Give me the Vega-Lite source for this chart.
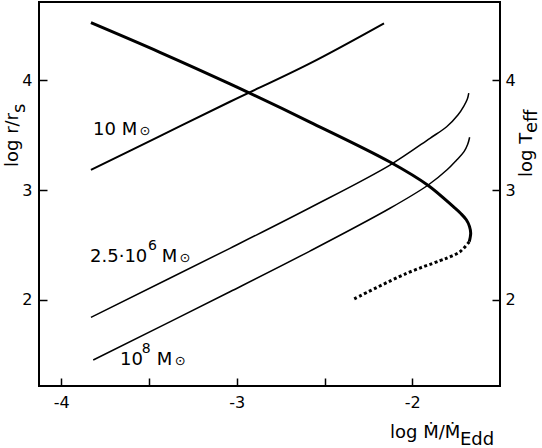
{
  "$schema": "https://vega.github.io/schema/vega-lite/v6.json",
  "width": 461,
  "height": 384,
  "autosize": "none",
  "padding": {"left": 39, "top": 2, "right": 42, "bottom": 62},
  "background": "white",
  "config": {
    "view": {"stroke": "black", "strokeWidth": 2},
    "font": "DejaVu Sans",
    "axis": {
      "domain": false,
      "grid": false,
      "title": null,
      "tickColor": "black",
      "tickWidth": 1.5,
      "tickSize": -8,
      "labelColor": "black",
      "labelFont": "DejaVu Sans",
      "labelFontSize": 16
    }
  },
  "datasets": {
    "curves": [
      {"s": "thick", "o": 1, "x": -3.831, "y": 4.526},
      {"s": "thick", "o": 2, "x": -3.438, "y": 4.256},
      {"s": "thick", "o": 3, "x": -3.039, "y": 3.968},
      {"s": "thick", "o": 4, "x": -2.583, "y": 3.621},
      {"s": "thick", "o": 5, "x": -2.127, "y": 3.257},
      {"s": "thick", "o": 6, "x": -1.909, "y": 3.043},
      {"s": "thick", "o": 7, "x": -1.766, "y": 2.849},
      {"s": "thick", "o": 8, "x": -1.722, "y": 2.785},
      {"s": "thick", "o": 9, "x": -1.692, "y": 2.730},
      {"s": "thick", "o": 10, "x": -1.674, "y": 2.670},
      {"s": "thick", "o": 11, "x": -1.667, "y": 2.607},
      {"s": "thick", "o": 12, "x": -1.675, "y": 2.530},
      {"s": "dotted", "o": 1, "x": -1.675, "y": 2.530},
      {"s": "dotted", "o": 2, "x": -1.728, "y": 2.439},
      {"s": "dotted", "o": 3, "x": -1.785, "y": 2.393},
      {"s": "dotted", "o": 4, "x": -1.842, "y": 2.357},
      {"s": "dotted", "o": 5, "x": -2.032, "y": 2.242},
      {"s": "dotted", "o": 6, "x": -2.336, "y": 2.005},
      {"s": "m10", "o": 1, "x": -3.831, "y": 3.184},
      {"s": "m10", "o": 2, "x": -3.438, "y": 3.493},
      {"s": "m10", "o": 3, "x": -3.039, "y": 3.806},
      {"s": "m10", "o": 4, "x": -2.583, "y": 4.156},
      {"s": "m10", "o": 5, "x": -2.161, "y": 4.521},
      {"s": "m25e6", "o": 1, "x": -3.831, "y": 1.841},
      {"s": "m25e6", "o": 2, "x": -3.039, "y": 2.470},
      {"s": "m25e6", "o": 3, "x": -2.583, "y": 2.840},
      {"s": "m25e6", "o": 4, "x": -2.127, "y": 3.229},
      {"s": "m25e6", "o": 5, "x": -1.899, "y": 3.473},
      {"s": "m25e6", "o": 6, "x": -1.804, "y": 3.578},
      {"s": "m25e6", "o": 7, "x": -1.740, "y": 3.685},
      {"s": "m25e6", "o": 8, "x": -1.706, "y": 3.767},
      {"s": "m25e6", "o": 9, "x": -1.686, "y": 3.831},
      {"s": "m25e6", "o": 10, "x": -1.678, "y": 3.885},
      {"s": "m1e8", "o": 1, "x": -3.818, "y": 1.452},
      {"s": "m1e8", "o": 2, "x": -3.039, "y": 2.074},
      {"s": "m1e8", "o": 3, "x": -2.583, "y": 2.445},
      {"s": "m1e8", "o": 4, "x": -2.127, "y": 2.835},
      {"s": "m1e8", "o": 5, "x": -1.909, "y": 3.047},
      {"s": "m1e8", "o": 6, "x": -1.800, "y": 3.188},
      {"s": "m1e8", "o": 7, "x": -1.747, "y": 3.275},
      {"s": "m1e8", "o": 8, "x": -1.705, "y": 3.351},
      {"s": "m1e8", "o": 9, "x": -1.684, "y": 3.418},
      {"s": "m1e8", "o": 10, "x": -1.673, "y": 3.482}
    ],
    "annot": [
      {"x": -3.819, "y": 3.503, "t": "10 M"},
      {"x": -3.836, "y": 2.342, "t": "2.5·10"},
      {"x": -3.428, "y": 2.342, "t": "M"},
      {"x": -3.665, "y": 1.406, "t": "10"},
      {"x": -3.456, "y": 1.406, "t": "M"},
      {"x": -2.127, "y": 0.741, "t": "log Ṁ/Ṁ"},
      {"x": -1.728, "y": 0.677, "t": "Edd"}
    ],
    "sun": [
      {"x": -3.554, "y": 3.503, "t": "⊙"},
      {"x": -3.326, "y": 2.342, "t": "⊙"},
      {"x": -3.354, "y": 1.406, "t": "⊙"}
    ],
    "sup": [
      {"x": -3.506, "y": 2.454, "t": "6"},
      {"x": -3.542, "y": 1.516, "t": "8"}
    ],
    "vtitle": [
      {"x": -4.247, "y": 3.211, "t": "log r/r"},
      {"x": -4.207, "y": 3.703, "t": "s"},
      {"x": -1.318, "y": 3.120, "t": "log T"},
      {"x": -1.289, "y": 3.521, "t": "eff"}
    ]
  },
  "layer": [
    {
      "data": {"name": "curves"},
      "transform": [{"filter": "datum.s === 'thick'"}],
      "mark": {"type": "line", "color": "black", "strokeWidth": 3, "interpolate": "catmull-rom"},
      "encoding": {
        "x": {"field": "x", "type": "quantitative", "scale": {"domain": [-4.127, -1.5], "nice": false, "zero": false},
              "axis": {"values": [-4, -3.5, -3, -2.5, -2], "labelExpr": "datum.value % 1 === 0 ? '' + datum.value : ''", "labelPadding": 16, "orient": "bottom"}},
        "y": {"field": "y", "type": "quantitative", "scale": {"domain": [1.215, 4.715], "nice": false, "zero": false},
              "axis": {"orient": "left", "values": [2, 3, 4], "labelExpr": "'' + datum.value", "labelPadding": 15}},
        "order": {"field": "o", "type": "quantitative"}
      }
    },
    {
      "data": {"name": "curves"},
      "transform": [{"filter": "datum.s === 'dotted'"}],
      "mark": {"type": "line", "color": "black", "strokeWidth": 3, "strokeDash": [3, 2.5], "interpolate": "catmull-rom"},
      "encoding": {
        "x": {"field": "x", "type": "quantitative"},
        "y": {"field": "y", "type": "quantitative", "axis": null},
        "order": {"field": "o", "type": "quantitative"}
      }
    },
    {
      "data": {"name": "curves"},
      "transform": [{"filter": "datum.s === 'm10'"}],
      "mark": {"type": "line", "color": "black", "strokeWidth": 2, "interpolate": "catmull-rom"},
      "encoding": {
        "x": {"field": "x", "type": "quantitative"},
        "y": {"field": "y", "type": "quantitative", "axis": null},
        "order": {"field": "o", "type": "quantitative"}
      }
    },
    {
      "data": {"name": "curves"},
      "transform": [{"filter": "datum.s === 'm25e6' || datum.s === 'm1e8'"}],
      "mark": {"type": "line", "color": "black", "strokeWidth": 1.5, "interpolate": "catmull-rom"},
      "encoding": {
        "x": {"field": "x", "type": "quantitative"},
        "y": {"field": "y", "type": "quantitative",
              "axis": {"orient": "right", "values": [2, 3, 4], "labelExpr": "'' + datum.value", "labelPadding": 13}},
        "detail": {"field": "s", "type": "nominal"},
        "order": {"field": "o", "type": "quantitative"}
      }
    },
    {
      "data": {"name": "annot"},
      "mark": {"type": "text", "align": "left", "baseline": "alphabetic", "fontSize": 18, "font": "DejaVu Sans", "color": "black"},
      "encoding": {
        "x": {"field": "x", "type": "quantitative"},
        "y": {"field": "y", "type": "quantitative", "axis": null},
        "text": {"field": "t", "type": "nominal"}
      }
    },
    {
      "data": {"name": "sun"},
      "mark": {"type": "text", "align": "left", "baseline": "alphabetic", "fontSize": 13, "font": "DejaVu Sans", "color": "black"},
      "encoding": {
        "x": {"field": "x", "type": "quantitative"},
        "y": {"field": "y", "type": "quantitative", "axis": null},
        "text": {"field": "t", "type": "nominal"}
      }
    },
    {
      "data": {"name": "sup"},
      "mark": {"type": "text", "align": "left", "baseline": "alphabetic", "fontSize": 14, "font": "DejaVu Sans", "color": "black"},
      "encoding": {
        "x": {"field": "x", "type": "quantitative"},
        "y": {"field": "y", "type": "quantitative", "axis": null},
        "text": {"field": "t", "type": "nominal"}
      }
    },
    {
      "data": {"name": "vtitle"},
      "mark": {"type": "text", "align": "left", "baseline": "alphabetic", "angle": 270, "fontSize": 18, "font": "DejaVu Sans", "color": "black"},
      "encoding": {
        "x": {"field": "x", "type": "quantitative"},
        "y": {"field": "y", "type": "quantitative", "axis": null},
        "text": {"field": "t", "type": "nominal"}
      }
    }
  ],
  "resolve": {"axis": {"y": "independent"}}
}
